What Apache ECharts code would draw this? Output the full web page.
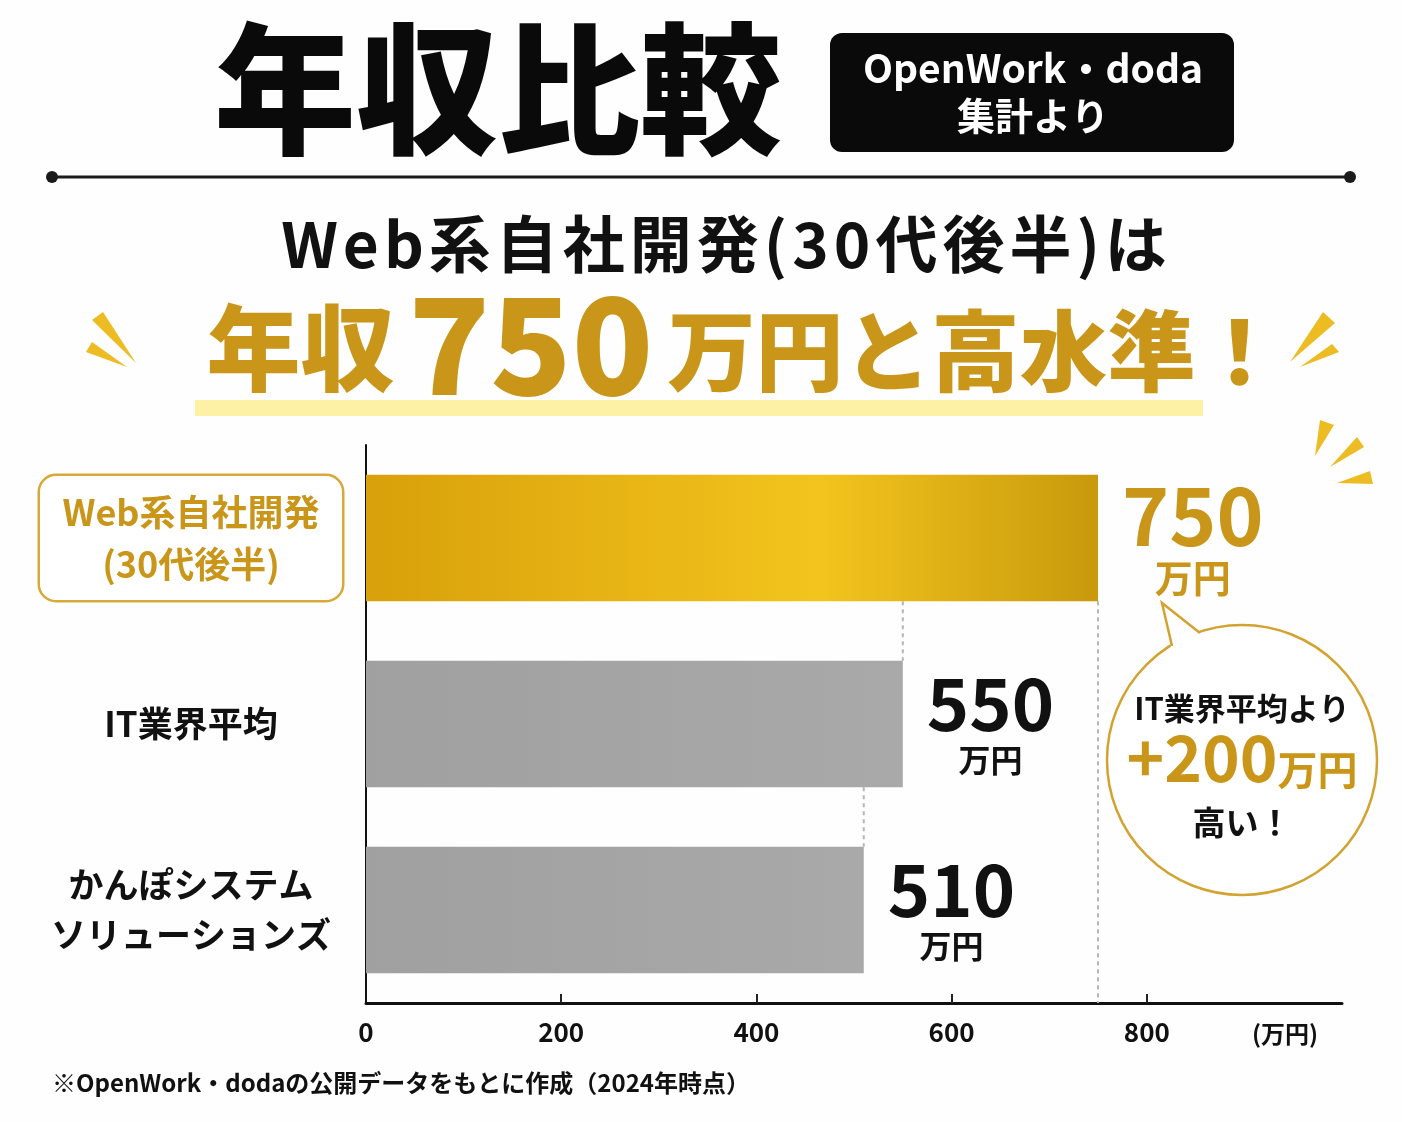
<!DOCTYPE html>
<html>
<head>
<meta charset="utf-8">
<script src="https://cdn.jsdelivr.net/npm/echarts@6/dist/echarts.min.js"></script>
<style>
html,body{margin:0;padding:0;background:#fff;}
#c{width:1402px;height:1122px;}
</style>
</head>
<body>
<div id="c"></div>
<script>
// ---- data ----
var categories = ['Web系自社開発\n(30代後半)', 'IT業界平均', 'かんぽシステム\nソリューションズ'];
var values = [750, 550, 510];
var valueUnit = '万円';
var xTicks = [0, 200, 400, 600, 800];
var titleText = '年収比較';
var sourceBadge = ['OpenWork・doda', '集計より'];
var subtitleText = 'Web系自社開発(30代後半)は';
var headlineParts = ['年収', '750', '万円と高水準！'];
var bubbleLines = ['IT業界平均より', '+200', '万円', '高い！'];
var unitLabel = '(万円)';
var footnote = '※OpenWork・dodaの公開データをもとに作成（2024年時点）';

var FONT = '"Noto Sans CJK JP","Noto Sans",sans-serif';
var GOLD = '#c9961a';
var chart = echarts.init(document.getElementById('c'), null, {renderer: 'canvas'});

var goldBar = new echarts.graphic.LinearGradient(0, 0, 1, 0, [
  {offset: 0, color: '#d8a00a'},
  {offset: 0.62, color: '#f3c41d'},
  {offset: 1, color: '#c89a0c'}
]);
var grayBar = new echarts.graphic.LinearGradient(0, 0, 1, 0, [
  {offset: 0, color: '#a0a0a0'},
  {offset: 1, color: '#a9a9a9'}
]);

function wedge(pts) {
  return {type: 'polygon', shape: {points: pts}, style: {fill: '#edbb22'}, z: 5};
}
function spaced(str, key, gapKey) {
  return str.split('').map(function (ch) { return '{' + key + '|' + ch + '}'; }).join('{' + gapKey + '| }');
}

var option = {
  backgroundColor: '#fefefe',
  textStyle: {fontFamily: FONT},
  grid: {left: 366, right: 60, top: 445, bottom: 119, containLabel: false},
  xAxis: {
    type: 'value', min: 0, max: 1000, interval: 200,
    axisLine: {show: true, lineStyle: {color: '#111', width: 3}},
    axisTick: {show: true, inside: true, length: 9, customValues: [200, 400, 600, 800], lineStyle: {color: '#222', width: 2}},
    splitLine: {show: false},
    axisLabel: {
      margin: 16, color: '#111', fontSize: 26, fontWeight: 'bold', fontFamily: FONT,
      formatter: function (v) { return xTicks.indexOf(v) >= 0 ? String(v) : ''; }
    }
  },
  yAxis: {
    type: 'category', inverse: true,
    data: categories.map(function (c, i) {
      if (i === 0) {
        return {value: c, textStyle: {
          borderColor: '#d8a93a', borderWidth: 2.5, borderRadius: 16,
          backgroundColor: '#fff', padding: [10, 36, 10, 36]
        }};
      }
      return c;
    }),
    axisLine: {show: true, lineStyle: {color: '#111', width: 2}},
    axisTick: {show: false},
    splitLine: {show: false},
    axisLabel: {
      margin: 24, fontFamily: FONT,
      formatter: function (v, idx) {
        var key = idx === 0 ? 'hl' : 'c';
        return v.split('\n').map(function (s) { return '{' + key + '|' + s + '}'; }).join('\n');
      },
      rich: {
        hl: {width: 230, align: 'center', color: GOLD, fontSize: 36, fontWeight: 'bold', lineHeight: 52, fontFamily: FONT},
        c: {width: 302, align: 'center', color: '#111', fontSize: 35, fontWeight: 'bold', lineHeight: 50, fontFamily: FONT}
      }
    }
  },
  series: [
    {
      type: 'custom',
      z: 1,
      silent: true,
      data: values.map(function (v, i) { return [v, i]; }),
      encode: {x: 0, y: 1},
      renderItem: function (params, api) {
        var i = api.value(1);
        var p = api.coord([api.value(0), i]);
        var band = api.size([0, 1])[1];
        var half = band * 0.34;
        var y1, y2;
        if (i === 0) {
          y1 = p[1] + half;
          y2 = params.coordSys.y + params.coordSys.height;
        } else {
          y1 = p[1] - band + half;
          y2 = p[1] - half;
        }
        return {
          type: 'line',
          shape: {x1: p[0], y1: y1, x2: p[0], y2: y2},
          style: {stroke: '#b5b5b5', lineWidth: 2, lineDash: [4, 4]}
        };
      }
    },
    {
      type: 'bar',
      z: 3,
      barWidth: '68%',
      data: values.map(function (v, i) {
        return {value: v, itemStyle: {color: i === 0 ? goldBar : grayBar}};
      }),
      label: {
        show: true, position: 'right', distance: 24, fontFamily: FONT,
        formatter: function (p) {
          return p.dataIndex === 0
            ? '{gv|' + p.value + '}\n{gu|' + valueUnit + '}'
            : '{kv|' + p.value + '}\n{ku|' + valueUnit + '}';
        },
        rich: {
          gv: {fontSize: 80, fontWeight: 'bold', color: GOLD, align: 'center', lineHeight: 80, fontFamily: FONT},
          gu: {fontSize: 38, fontWeight: 'bold', color: GOLD, align: 'center', lineHeight: 44, fontFamily: FONT},
          kv: {fontSize: 72, fontWeight: 'bold', color: '#111', align: 'center', lineHeight: 72, fontFamily: FONT},
          ku: {fontSize: 32, fontWeight: 'bold', color: '#111', align: 'center', lineHeight: 40, fontFamily: FONT}
        }
      }
    }
  ],
  graphic: [
    // title
    {type: 'text', left: 214, top: 18, z: 10,
      style: {text: titleText, font: '900 142px ' + FONT, fill: '#0a0a0a'}},
    // badge
    {type: 'rect', shape: {x: 830, y: 33, width: 404, height: 119, r: 12}, style: {fill: '#0a0a0a'}, z: 10},
    {type: 'text', x: 1033, y: 68, z: 11,
      style: {text: sourceBadge[0], font: 'bold 39px ' + FONT, fill: '#fff', align: 'center', verticalAlign: 'middle'}},
    {type: 'text', x: 1033, y: 116, z: 11,
      style: {text: sourceBadge[1], font: 'bold 38px ' + FONT, fill: '#fff', align: 'center', verticalAlign: 'middle'}},
    // divider
    {type: 'line', shape: {x1: 52, y1: 177, x2: 1350, y2: 177}, style: {stroke: '#1a1a1a', lineWidth: 3}, z: 10},
    {type: 'circle', shape: {cx: 52, cy: 177, r: 6}, style: {fill: '#1a1a1a'}, z: 10},
    {type: 'circle', shape: {cx: 1350, cy: 177, r: 6}, style: {fill: '#1a1a1a'}, z: 10},
    // subtitle
    {type: 'text', x: 724, y: 244, z: 10,
      style: {
        text: spaced(subtitleText, 't', 'g'),
        align: 'center', verticalAlign: 'middle',
        rich: {
          t: {font: 'bold 62px ' + FONT, fill: '#111'},
          g: {font: 'bold 10px ' + FONT, width: 5}
        }
      }},
    // highlight
    {type: 'rect', shape: {x: 195, y: 400, width: 1008, height: 16}, style: {fill: '#fcf1a4'}, z: 9},
    // headline
    {type: 'text', x: 745, y: 411, z: 10,
      style: {
        text: '{a|' + headlineParts[0] + '}{s| }{b|' + headlineParts[1] + '}{s| }{c|' + headlineParts[2] + '}',
        align: 'center', verticalAlign: 'bottom',
        rich: {
          a: {font: '900 94px ' + FONT, fill: GOLD, verticalAlign: 'bottom', padding: [0, 0, 16, 0]},
          b: {font: '900 134px ' + FONT, fill: GOLD, verticalAlign: 'bottom'},
          c: {font: '900 88px ' + FONT, fill: GOLD, verticalAlign: 'bottom', padding: [0, 0, 16, 0]},
          s: {font: '900 20px ' + FONT, width: 14, verticalAlign: 'bottom'}
        }
      }},
    // sparkles
    wedge([[92, 320], [103, 312], [136, 363]]),
    wedge([[86, 352], [92, 342], [127, 367]]),
    wedge([[1323, 312], [1335, 323], [1290, 362]]),
    wedge([[1332, 344], [1339, 352], [1300, 367]]),
    wedge([[1320, 420], [1334, 425], [1315, 456]]),
    wedge([[1357, 437], [1364, 447], [1330, 467]]),
    wedge([[1370, 471], [1373, 484], [1337, 483]]),
    // bubble
    {type: 'circle', shape: {cx: 1242, cy: 760, r: 135}, style: {fill: '#fff', stroke: '#d3a331', lineWidth: 2.5}, z: 20},
    {type: 'polygon', shape: {points: [[1171, 647], [1162, 604], [1201, 634], [1195, 652]]}, style: {fill: '#fff'}, z: 21},
    {type: 'polyline', shape: {points: [[1172, 646], [1162, 603], [1200, 633]]}, style: {stroke: '#d3a331', lineWidth: 2.5, fill: null}, z: 22},
    {type: 'text', x: 1242, y: 708, z: 23,
      style: {text: bubbleLines[0], font: 'bold 31px ' + FONT, fill: '#111', align: 'center', verticalAlign: 'middle'}},
    {type: 'text', x: 1242, y: 790, z: 23,
      style: {
        text: '{p|' + bubbleLines[1] + '}{u|' + bubbleLines[2] + '}',
        align: 'center', verticalAlign: 'bottom',
        rich: {
          p: {font: 'bold 64px ' + FONT, fill: GOLD, verticalAlign: 'bottom', lineHeight: 70},
          u: {font: 'bold 40px ' + FONT, fill: GOLD, verticalAlign: 'bottom', lineHeight: 62}
        }
      }},
    {type: 'text', x: 1242, y: 822, z: 23,
      style: {text: bubbleLines[3], font: 'bold 33px ' + FONT, fill: '#111', align: 'center', verticalAlign: 'middle'}},
    // axis unit
    {type: 'text', x: 1285, y: 1034, z: 10,
      style: {text: unitLabel, font: 'bold 24px ' + FONT, fill: '#111', align: 'center', verticalAlign: 'middle'}},
    // footnote
    {type: 'text', x: 52, y: 1083, z: 10,
      style: {text: footnote, font: 'bold 24px ' + FONT, fill: '#111', align: 'left', verticalAlign: 'middle'}}
  ]
};
chart.setOption(option);
</script>
</body>
</html>
